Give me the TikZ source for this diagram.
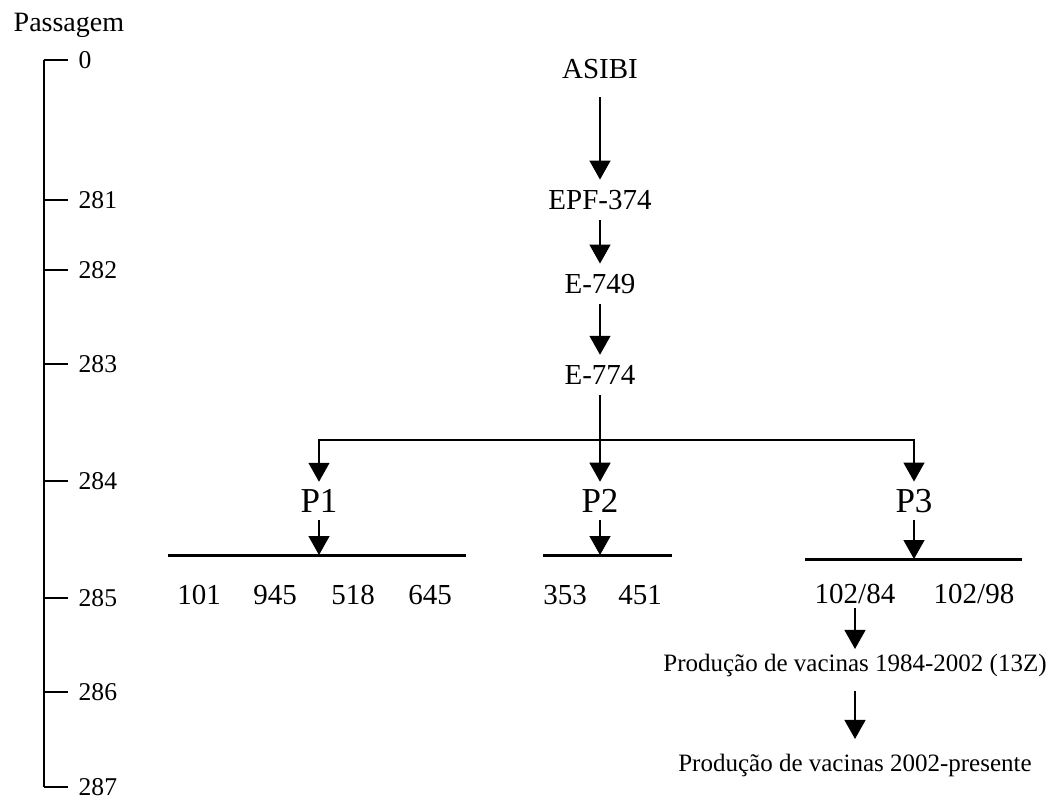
\documentclass[tikz,border=0pt]{standalone}
\usepackage{fontspec}
\setmainfont{Liberation Serif}
\usepackage{tikz}
\usetikzlibrary{arrows.meta}
\tikzset{%
  strain/.style  = {font=\fontsize{14.5}{17}\selectfont, inner sep=5pt},%
  seed/.style    = {font=\fontsize{17.5}{20}\selectfont, inner sep=3.5pt},%
  lot/.style     = {font=\fontsize{14.5}{17}\selectfont, inner sep=2pt},%
  vaccine/.style = {font=\fontsize{12.5}{15}\selectfont, inner sep=2pt},%
  passage/.style = {font=\fontsize{12.8}{15}\selectfont, inner sep=5pt, anchor=west},%
  flow/.style    = {-{Triangle[width=10.5pt,length=9.5pt]}, line width=.7pt},%
  bar/.style     = {line width=1.5pt}%
}

\begin{document}
\begin{tikzpicture}
              [x=.5pt, y=-.5pt, line width=.7pt]
              \useasboundingbox (0,0) rectangle (1056,798);
              % -------------- PASSAGE AXIS --------------------------------------
              \node [anchor=base west, inner sep=0pt, font=\fontsize{14}{16}\selectfont]
              (Passagem) at (13,31) {Passagem};
              \draw (44,60) -- (44,787);
              \foreach \y/\p in {60/0, 200/281, 270/282, 364/283, 481/284, 598/285, 692/286, 787/287}
              \draw (44,\y) -- (68,\y) node [passage] (Tick\p) {\p};
              % -------------- ASIBI TO E-774 --------------------------------------
              \node [strain] (Asibi) at (600,69) {ASIBI};
              \node [strain] (EPF) at (600,200) {EPF-374};
              \node [strain] (Ea) at (600,284) {E-749};
              \node [strain] (Eb) at (600,375) {E-774};
              \draw[flow, shorten <=4pt] (Asibi) -- (EPF);
              \draw[flow] (EPF) -- (Ea);
              \draw[flow] (Ea) -- (Eb);
              % -------------- SEEDS P1 P2 P3 --------------------------------------
              \node [seed] (PA) at (319,501) {P1};
              \node [seed] (PB) at (600,501) {P2};
              \node [seed] (PC) at (914,501) {P3};
              \coordinate (Split) at (600,440);
              \draw[flow] (Eb) -- (PB);
              \draw[flow] (Split) -| (PA);
              \draw[flow] (Split) -| (PC);
              % --------- lots under each seed ---------------------------------------
              \coordinate (BarAL) at (168,555);
              \coordinate (BarAR) at (466,555);
              \coordinate (BarBL) at (543,555);
              \coordinate (BarBR) at (672,555);
              \coordinate (BarCL) at (805,559);
              \coordinate (BarCR) at (1022,559);
              \draw[bar] (BarAL) -- (BarAR);
              \draw[bar] (BarBL) -- (BarBR);
              \draw[bar] (BarCL) -- (BarCR);
              \draw[flow] (PA) -- (PA |- BarAL);
              \draw[flow] (PB) -- (PB |- BarBL);
              \draw[flow] (PC) -- (PC |- BarCL);
              \node [lot] (LotA) at (199,595) {101};
              \node [lot] (LotB) at (275,595) {945};
              \node [lot] (LotC) at (353,595) {518};
              \node [lot] (LotD) at (430,595) {645};
              \node [lot] (LotE) at (565,595) {353};
              \node [lot] (LotF) at (640,595) {451};
              \node [lot] (LotG) at (855,594) {102/84};
              \node [lot] (LotH) at (974,594) {102/98};
              % --------- vaccine production ---------------------------------------
              \node [vaccine] (ProdA) at (855,665) {Produção de vacinas 1984-2002 (13Z)};
              \node [vaccine] (ProdB) at (855,765) {Produção de vacinas 2002-presente};
              \draw[flow] (LotG) -- (ProdA);
              \draw[flow, shorten <=5pt, shorten >=5pt] (ProdA) -- (ProdB);
\end{tikzpicture}
\end{document}
